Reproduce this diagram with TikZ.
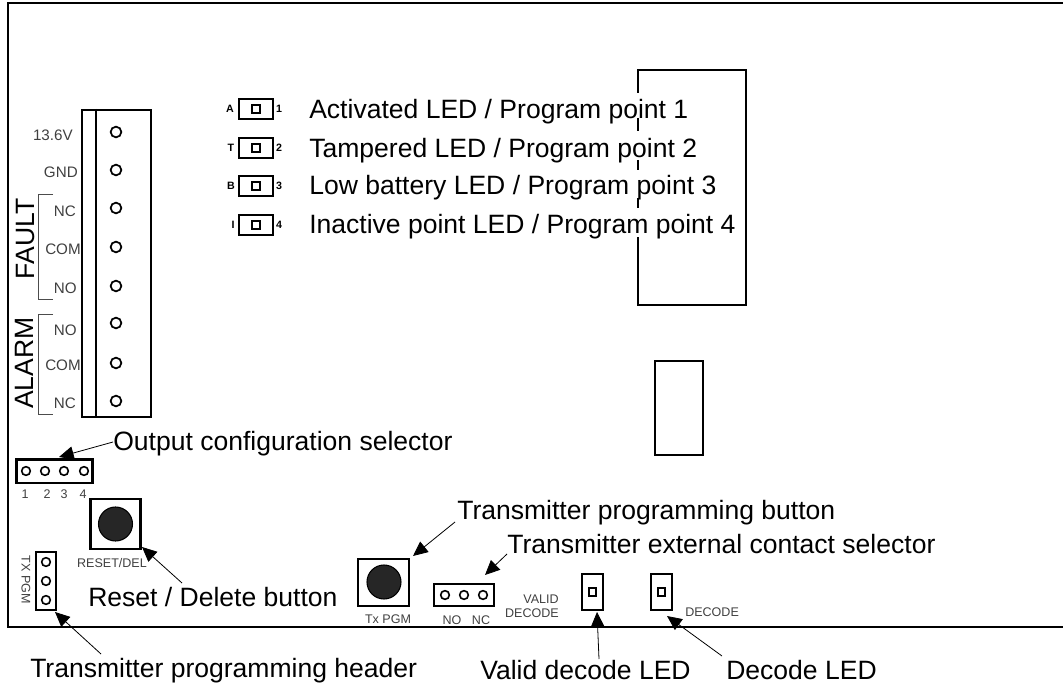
\documentclass[tikz,border=0pt]{standalone}
\usepackage{fontspec}
\setmainfont{Liberation Sans}
\usetikzlibrary{arrows.meta}
\tikzset{
  x=0.75pt,y=-0.75pt,
  part/.style={draw=black,line width=1.75pt,fill=none},
  boxpart/.style={rectangle,draw=black,line width=1.75pt,inner sep=0pt},
  hole/.style={circle,draw=black,line width=1.3pt,minimum size=8pt,inner sep=0pt},
  minihole/.style={circle,draw=black,line width=1.2pt,minimum size=6.5pt,inner sep=0pt},
  sq/.style={rectangle,draw=black,line width=1.3pt,minimum size=5.5pt,inner sep=0pt},
  knob/.style={circle,draw=black,fill=black!85,line width=0.8pt,minimum size=25.5pt,inner sep=0pt},
  big/.style={font=\fontsize{19.9}{23}\selectfont,text=black,inner sep=0pt,anchor=base west},
  side/.style={font=\fontsize{11.4}{13}\selectfont,text=black!75,inner sep=0pt},
  small/.style={font=\fontsize{9.4}{11}\selectfont,text=black!75,inner sep=0pt},
  tiny/.style={font=\bfseries\fontsize{8}{9}\selectfont,inner sep=0pt},
  vert/.style={font=\fontsize{19.9}{23}\selectfont,rotate=90,inner sep=0pt},
  ptr/.style={-{Triangle[length=11pt,width=10pt]},line width=0.6pt},
  brack/.style={draw=black!70,line width=0.5pt}
}
\begin{document}
\begin{tikzpicture}
\useasboundingbox (0,0) rectangle (1063,688);
% frame
\draw[line width=1.75pt] (1063,3) -- (8,3) -- (8,627) -- (1063,627);
% relay and block
\draw[part] (638,70) -- (638,93);
\draw[part] (638,118) -- (638,131);
\draw[part] (638,160) -- (638,170);
\draw[part] (638,198) -- (638,208);
\draw[part,line join=miter] (638,237) -- (638,305) -- (746,305) -- (746,70) -- (637,70);
\node[boxpart,minimum width=36pt,minimum height=70.5pt,anchor=north west] (blk) at (654,360) {};
% terminal block
\node[boxpart,minimum width=51.5pt,minimum height=230pt,anchor=north west] (term) at (81,109) {};
\draw[part] (96,109) -- (96,416);
\foreach \n/\y in {a/132,b/170,c/208,d/247,e/286,f/323,g/363,h/401}
  \node[hole] (t\n) at (116,\y) {};
\node[side,anchor=east] (v) at (73,135) {13.6V};
\node[side,anchor=east] (gnd) at (78,172) {GND};
\node[side,anchor=east] (f1) at (76,211) {NC};
\node[side,anchor=east] (f2) at (81,249) {COM};
\node[side,anchor=east] (f3) at (77,288) {NO};
\node[side,anchor=east] (a1) at (77,330) {NO};
\node[side,anchor=east] (a2) at (81,365) {COM};
\node[side,anchor=east] (a3) at (76,403) {NC};
\node[vert] (fault) at (26,239) {FAULT};
\node[vert] (alarm) at (24,363) {ALARM};
\draw[brack] (53,194) -- (38,194) -- (38,299) -- (53,299);
\draw[brack] (53,314) -- (38,314) -- (38,414) -- (53,414);
% LED row
\foreach \n/\y/\l/\r/\xl in {p/109/A/1/230,q/148/T/2/231,r/186/B/3/231,s/225/I/4/233}{
  \node[draw=black,line width=1.4pt,rectangle,minimum width=25.5pt,minimum height=15.5pt,inner sep=0] (\n box) at (256,\y) {};
  \node[sq] (\n sq) at (256,\y) {};
  \node[tiny] (\n l) at (\xl,\y) {\l};
  \node[tiny] (\n r) at (279,\y) {\r};
}
\node[big] (pt) at (309,119) {Activated LED / Program point 1};
\node[big] (qt) at (309,157) {Tampered LED / Program point 2};
\node[big] (rt) at (309,195) {Low battery LED / Program point 3};
\node[big] (st) at (309,233) {Inactive point LED / Program point 4};
% output selector
\node[boxpart,minimum width=57pt,minimum height=17.5pt] (osel) at (54.5,471) {};
\foreach \n/\x in {1/26,2/45,3/64,4/84}
  \node[minihole] (o\n) at (\x,471) {};
\foreach \n/\x in {1/25,2/47,3/64,4/83}
  \node[small] (ol\n) at (\x,494) {\n};
\node[big] (otext) at (113,450) {Output configuration selector};
\coordinate (otail) at (113,442);
\draw[ptr] (otail) -- (59,457);
% reset
\node[boxpart,minimum size=37.5pt] (rbtn) at (115.5,524) {};
\node[knob] (rk) at (115.5,524) {};
\node[small] (rl) at (112,563) {RESET/DEL};
\node[big] (rtext) at (88,606) {Reset / Delete button};
\coordinate (rtail) at (182,583);
\draw[ptr] (rtail) -- (142,547);
% TX PGM header
\node[boxpart,minimum width=15pt,minimum height=43.5pt] (hdr) at (46,581) {};
\foreach \n/\y in {1/562,2/581,3/600}
  \node[minihole] (h\n) at (46,\y) {};
\node[small,rotate=-90] (hl) at (26,580) {TX PGM};
\node[big] (htext) at (30,677) {Transmitter programming header};
\coordinate (htail) at (101,654);
\draw[ptr] (htail) -- (55,612);
% tx button
\node[boxpart,minimum width=38pt,minimum height=35.5pt] (tbtn) at (383.5,582.5) {};
\node[knob] (tk) at (384,582) {};
\node[small] (tl) at (388,619) {Tx PGM};
\node[big] (ttext) at (457,519) {Transmitter programming button};
\coordinate (ttail) at (455,522);
\draw[ptr] (ttail) -- (413,556);
% contact selector
\node[boxpart,minimum width=45pt,minimum height=16.5pt] (csel) at (464,595) {};
\foreach \n/\x in {1/445,2/464,3/483}
  \node[minihole] (c\n) at (\x,595) {};
\node[small] (cno) at (452,620) {NO};
\node[small] (cnc) at (481,620) {NC};
\node[big] (ctext) at (507,553) {Transmitter external contact selector};
\coordinate (ctail) at (507,554);
\draw[ptr] (ctail) -- (485,575);
% LEDs
\node[small,anchor=east] (vl1) at (559,599) {VALID};
\node[small,anchor=east] (vl2) at (559,613) {DECODE};
\node[boxpart,minimum width=15.5pt,minimum height=27pt] (vled) at (592.5,592) {};
\node[sq] (vs) at (592.5,592) {};
\node[boxpart,minimum width=15.5pt,minimum height=27pt] (dled) at (661.5,592) {};
\node[sq] (ds) at (661.5,592) {};
\node[small,anchor=west] (dl) at (685,612) {DECODE};
\node[big] (vtext) at (480,679) {Valid decode LED};
\node[big] (dtext) at (726,679) {Decode LED};
\coordinate (vtail) at (599,659);
\coordinate (dtail) at (722,656);
\draw[ptr] (vtail) -- (597,612);
\draw[ptr] (dtail) -- (667,616);
\end{tikzpicture}
\end{document}
